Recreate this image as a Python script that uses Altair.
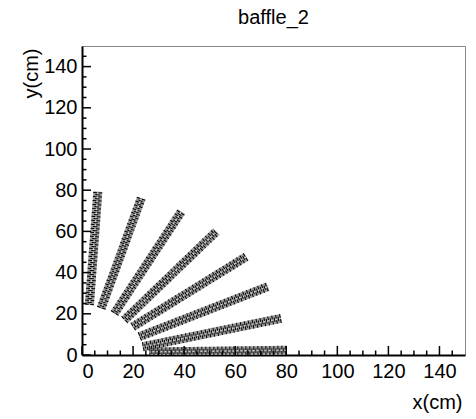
import altair as alt
import pandas as pd

# Band (scatter strip) endpoints, in cm
band_x_start = [2.9, 7.5, 12.7, 16.6, 19.9, 22.5, 23.8, 26.4]
band_y_start = [24.3, 22.7, 20.2, 17.0, 13.7, 8.9, 4.0, 1.5]
band_x_end = [6.2, 23.2, 38.9, 52.6, 64.3, 72.8, 78.0, 80.0]
band_y_end = [79.3, 76.1, 69.6, 59.9, 47.7, 33.2, 17.8, 2.3]

major_ticks = [0, 20, 40, 60, 80, 100, 120, 140]
minor_ticks = [5, 10, 15, 25, 30, 35, 45, 50, 55, 65, 70, 75, 85, 90, 95,
               105, 110, 115, 125, 130, 135, 145]

FONT = "Liberation Sans"
FS = 20
W, H = 383, 309

bands = pd.DataFrame({"x": band_x_start, "y": band_y_start,
                      "x2": band_x_end, "y2": band_y_end})
major = pd.DataFrame({"x": major_ticks, "y": major_ticks})
minor = pd.DataFrame({"x": minor_ticks, "y": minor_ticks})

xs = alt.Scale(domain=[0, 150], nice=False, zero=False)
ys = alt.Scale(domain=[0, 150], nice=False, zero=False)

xaxis = alt.Axis(values=major_ticks, tickSize=0, grid=False, labelFont=FONT,
                 labelFontSize=FS, labelColor="black", labelPadding=6,
                 domainColor="black", domainWidth=2,
                 title="x(cm)", titleFont=FONT, titleFontSize=FS,
                 titleFontWeight="normal", titleColor="black",
                 titleAlign="right", titleBaseline="alphabetic",
                 titleX=380, titleY=53, titleAngle=0)
yaxis = alt.Axis(values=major_ticks, tickSize=0, grid=False, labelFont=FONT,
                 labelFontSize=FS, labelColor="black", labelPadding=5,
                 domainColor="black", domainWidth=2,
                 title="y(cm)", titleFont=FONT, titleFontSize=FS,
                 titleFontWeight="normal", titleColor="black",
                 titleAlign="right", titleBaseline="alphabetic",
                 titleX=-45, titleY=2, titleAngle=270)

X = alt.X("x:Q", scale=xs, axis=xaxis)
Y = alt.Y("y:Q", scale=ys, axis=yaxis)

base = alt.Chart(bands)
band_bg = base.mark_rule(color="#9a9a9a", strokeWidth=9, strokeCap="butt", clip=True).encode(
    x=X, y=Y, x2="x2:Q", y2="y2:Q")
band_dots = base.mark_rule(color="black", strokeWidth=9, strokeDash=[1, 3],
                           strokeCap="butt", clip=True).encode(
    x=X, y=Y, x2="x2:Q", y2="y2:Q")
band_dots2 = base.mark_rule(color="black", strokeWidth=4.5, strokeDash=[1, 3],
                            strokeDashOffset=2, strokeCap="butt", clip=True).encode(
    x=X, y=Y, x2="x2:Q", y2="y2:Q")
band_light = base.mark_rule(color="#cfcfcf", strokeWidth=1.5, strokeDash=[2, 2],
                            strokeDashOffset=1, strokeCap="butt", clip=True).encode(
    x=X, y=Y, x2="x2:Q", y2="y2:Q")

def yticks(df, length):
    return alt.Chart(df).mark_rule(color="black", strokeWidth=1.5).encode(
        y=Y, x=alt.value(0), x2=alt.value(length))

def xticks(df, length):
    return alt.Chart(df).mark_rule(color="black", strokeWidth=1.5).encode(
        x=X, y=alt.value(H), y2=alt.value(H - length))

chart = alt.layer(
    band_bg, band_dots, band_dots2, band_light,
    yticks(major, 9), yticks(minor, 4.5),
    xticks(major, 9), xticks(minor, 4.5),
).properties(
    width=W, height=H,
    title=alt.TitleParams("baffle_2", font=FONT, fontSize=FS, fontWeight="normal",
                          color="black", anchor="middle", baseline="alphabetic", offset=2),
    autosize=alt.AutoSizeParams(type="none"),
    padding={"left": 82, "top": 46, "right": 11, "bottom": 64},
).configure_view(stroke="#888888", strokeWidth=1)

chart.save("out.html", embed_options={"renderer": "svg", "actions": False})
